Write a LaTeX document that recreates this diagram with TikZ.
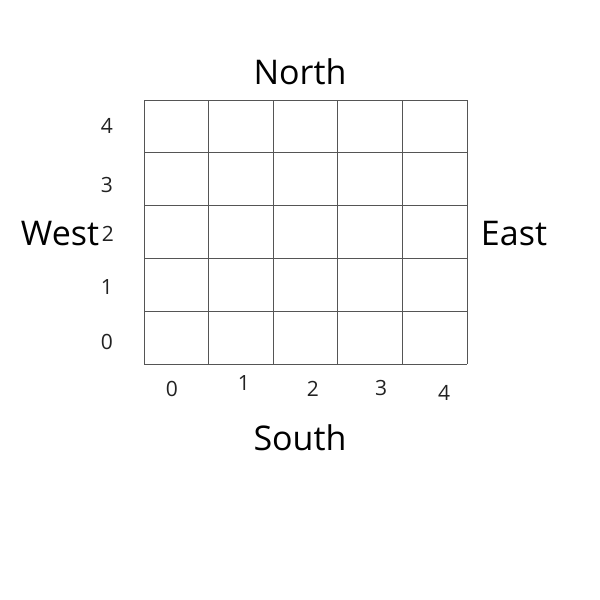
\documentclass[tikz,border=0pt]{standalone}
\usepackage{fontspec}
\setmainfont{Open Sans}
\usetikzlibrary{positioning}
\definecolor{gridline}{HTML}{555555}
\definecolor{labeltext}{HTML}{222222}
\tikzset{
  compass/.style={font=\fontsize{34}{40}\selectfont, text=black, inner sep=0pt},
  tick/.style={font=\fontsize{21}{25}\selectfont, text=labeltext, inner sep=0pt},
  gridrule/.style={draw=gridline, line width=0.9pt},
}

\begin{document}
\begin{tikzpicture}[x=1pt,y=-1pt]
  \useasboundingbox[fill=white] (0,0) rectangle (600,600);
  % grid
  \foreach \gx in {144,208.6,273.2,337.8,402.4,467}
    \draw[gridrule] (\gx,100)--(\gx,364);
  \foreach \gy in {100,152.8,205.6,258.4,311.2,364}
    \draw[gridrule] (144,\gy)--(467,\gy);
  % compass labels
  \node[compass] (north) at (300,72) {North};
  \node[compass] (south) at (300,438) {South};
  \node[compass] (west) at (60,234) {West};
  \node[compass] (east) at (514,234) {East};
  % y ticks
  \node[tick] (y4) at (107,126) {4};
  \node[tick] (y3) at (107,185) {3};
  \node[tick] (y2) at (108,234) {2};
  \node[tick] (y1) at (107,287) {1};
  \node[tick] (y0) at (107,342) {0};
  % x ticks
  \node[tick] (x0) at (172,389) {0};
  \node[tick] (x1) at (244,383) {1};
  \node[tick] (x2) at (313,389) {2};
  \node[tick] (x3) at (381,388) {3};
  \node[tick] (x4) at (444,393) {4};
\end{tikzpicture}
\end{document}
